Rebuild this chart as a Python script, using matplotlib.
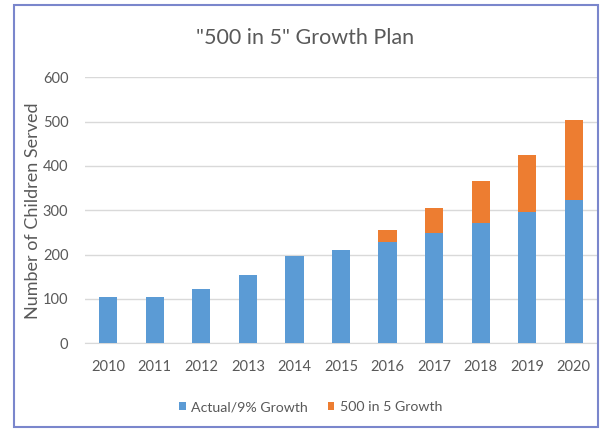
import matplotlib

matplotlib.use("Agg")
import matplotlib.pyplot as plt
from matplotlib.patches import Rectangle
import numpy as np

years = ["2010", "2011", "2012", "2013", "2014", "2015",
         "2016", "2017", "2018", "2019", "2020"]
actual = [104, 104, 123, 154, 196, 210, 229, 249, 271, 297, 324]
extra = [0, 0, 0, 0, 0, 0, 26, 56, 95, 127, 179]

BLUE = "#5B9BD5"
ORANGE = "#ED7D31"
GREY = "#595959"

plt.rcParams["font.family"] = ["Lato", "DejaVu Sans"]

fig = plt.figure(figsize=(6.05, 4.29), dpi=100)
ax = fig.add_axes([0.1405, 0.1998, 0.8463, 0.62])

x = np.arange(len(years))
ax.bar(x, actual, width=0.39, color=BLUE, label="Actual/9% Growth", zorder=3)
ax.bar(x, extra, width=0.39, bottom=actual, color=ORANGE,
       label="500 in 5 Growth", zorder=3)

ax.set_xlim(-0.5, len(years) - 0.5)
ax.set_ylim(0, 600)
ax.set_yticks(range(0, 601, 100))
ax.set_xticks(x, years)
ax.grid(axis="y", color="#D9D9D9", lw=1, zorder=0)
for s in ["top", "right", "left"]:
    ax.spines[s].set_visible(False)
ax.spines["bottom"].set_color("#D9D9D9")
ax.tick_params(length=0, labelsize=10.5, labelcolor=GREY)
ax.tick_params(axis="y", pad=12)
ax.tick_params(axis="x", pad=12)
ax.set_ylabel("Number of Children Served", fontsize=13, color=GREY, labelpad=1)

fig.text(0.504, 0.911, '"500 in 5" Growth Plan', ha="center", va="center",
         fontsize=15.5, color=GREY)

fig.legend(loc="center", bbox_to_anchor=(0.514, 0.051), ncol=2, frameon=False,
           fontsize=10.2, labelcolor=GREY, handlelength=0.45, handleheight=0.45,
           handletextpad=0.4, columnspacing=1.4)

fig.patches.append(Rectangle((0.023, 0.005), 0.965, 0.983, transform=fig.transFigure,
                             fill=False, edgecolor="#7A86CC", lw=1.5))

fig.savefig("out.png", dpi=100)
